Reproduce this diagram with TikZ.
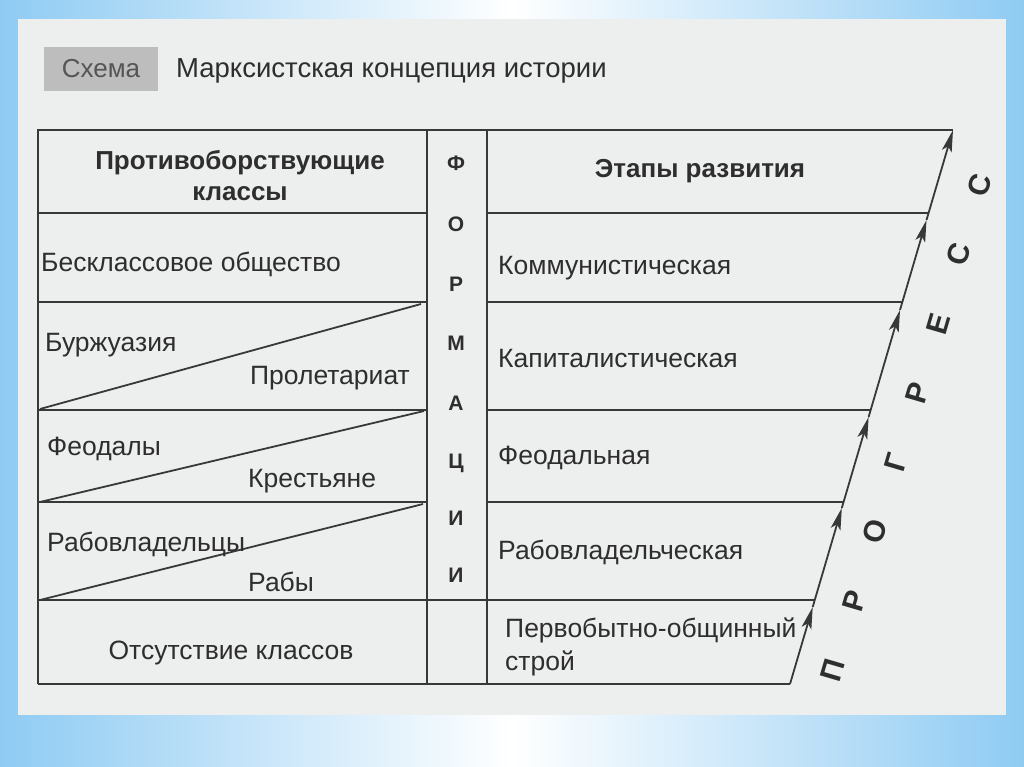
\documentclass[tikz,border=0pt]{standalone}
\usepackage{fontspec}
\setmainfont{Liberation Sans}
\usetikzlibrary{arrows.meta}
\definecolor{bgblue}{HTML}{8FCBF3}
\definecolor{panel}{HTML}{EDEEEE}
\definecolor{ink}{HTML}{2E2E2E}
\definecolor{lineclr}{HTML}{383838}
\definecolor{tagbg}{HTML}{BDBDBD}
\definecolor{tagink}{HTML}{555555}
\begin{document}
\begin{tikzpicture}[x=1pt,y=-1pt,
  grid/.style={draw=lineclr, line width=2.2pt},
  txt/.style={inner sep=0pt, text=ink, font=\fontsize{26.5}{33}\selectfont},
  hdr/.style={inner sep=0pt, text=ink, font=\bfseries\fontsize{26}{31}\selectfont, align=center},
  vletter/.style={inner sep=0pt, text=ink, font=\bfseries\fontsize{21}{21}\selectfont, anchor=base},
  progletter/.style={inner sep=0pt, text=ink, font=\bfseries\fontsize{30}{30}\selectfont, rotate=73.6, anchor=center},
  progarrow/.style={draw=lineclr, line width=1.8pt, -{Stealth[length=22pt,width=10pt,inset=5pt]}}
]
\useasboundingbox (0,0) rectangle (1024,767);
\shade[left color=bgblue, right color=bgblue, middle color=white] (0,0) rectangle (1024,767);
\fill[panel] (18,19) rectangle (1006,715);

% tag and title
\fill[tagbg] (44,47) rectangle (158,91);
\node[inner sep=0pt, text=tagink, font=\fontsize{26}{30}\selectfont, anchor=base] (tag) at (101,78) {Схема};
\node[inner sep=0pt, text=ink, font=\fontsize{27.5}{30}\selectfont, anchor=base west] (title) at (176,78) {Марксистская концепция истории};

% coordinates
\coordinate (TL) at (38,130);
\coordinate (T) at (953,130);
\coordinate (BL) at (38,684);
\coordinate (B) at (790,684);
\coordinate (D1t) at (427,130);
\coordinate (D1b) at (427,684);
\coordinate (D2t) at (487,130);
\coordinate (D2b) at (487,684);
\coordinate (L1) at (38,213);  \coordinate (M1) at (427,213);  \coordinate (N1) at (487,213);  \coordinate (R1) at (928.6,213);
\coordinate (L2) at (38,302);  \coordinate (M2) at (427,302);  \coordinate (N2) at (487,302);  \coordinate (R2) at (902.4,302);
\coordinate (L3) at (38,410);  \coordinate (M3) at (427,410);  \coordinate (N3) at (487,410);  \coordinate (R3) at (870.6,410);
\coordinate (L4) at (38,502);  \coordinate (M4) at (427,502);  \coordinate (N4) at (487,502);  \coordinate (R4) at (843.5,502);
\coordinate (L5) at (38,600);  \coordinate (R5) at (814.7,600);
\coordinate (G1a) at (40,409); \coordinate (G1b) at (421,304);
\coordinate (G2a) at (40,502); \coordinate (G2b) at (424,411);
\coordinate (G3a) at (40,600); \coordinate (G3b) at (423,504);
\coordinate (A1) at (812.7,607);
\coordinate (A2) at (841.8,508);
\coordinate (A3) at (868.6,417);
\coordinate (A4) at (900.0,310);
\coordinate (A5) at (926.5,220);

% table frame
\draw[grid] (BL) -- (TL) -- (T);
\draw[grid] (BL) -- (B);
\draw[grid] (D1t) -- (D1b);
\draw[grid] (D2t) -- (D2b);
\draw[grid] (L1) -- (M1); \draw[grid] (N1) -- (R1);
\draw[grid] (L2) -- (M2); \draw[grid] (N2) -- (R2);
\draw[grid] (L3) -- (M3); \draw[grid] (N3) -- (R3);
\draw[grid] (L4) -- (M4); \draw[grid] (N4) -- (R4);
\draw[grid] (L5) -- (R5);
\draw[grid, line width=1.8pt] (G1a) -- (G1b);
\draw[grid, line width=1.8pt] (G2a) -- (G2b);
\draw[grid, line width=1.8pt] (G3a) -- (G3b);

% progress arrow
\draw[progarrow] (B) -- (A1);
\draw[progarrow] (A1) -- (A2);
\draw[progarrow] (A2) -- (A3);
\draw[progarrow] (A3) -- (A4);
\draw[progarrow] (A4) -- (A5);
\draw[progarrow] (A5) -- (T);

% headers (base anchor = baseline of the last line)
\node[hdr, anchor=base] (h1) at (240,201) {Противоборствующие\\классы};
\node[hdr, anchor=base] (h2) at (700,178) {Этапы развития};

% left column
\node[txt, anchor=base west] (c1) at (41,271) {Бесклассовое общество};
\node[txt, anchor=base west] (c2a) at (45,351) {Буржуазия};
\node[txt, anchor=base east] (c2b) at (410,384) {Пролетариат};
\node[txt, anchor=base west] (c3a) at (47,455) {Феодалы};
\node[txt, anchor=base west] (c3b) at (248,487) {Крестьяне};
\node[txt, anchor=base west] (c4a) at (47,551) {Рабовладельцы};
\node[txt, anchor=base west] (c4b) at (248,591) {Рабы};
\node[txt, anchor=base] (c5) at (231,659) {Отсутствие классов};

% right column
\node[txt, anchor=base west] (s1) at (498,274) {Коммунистическая};
\node[txt, anchor=base west] (s2) at (498,367) {Капиталистическая};
\node[txt, anchor=base west] (s3) at (498,464) {Феодальная};
\node[txt, anchor=base west] (s4) at (498,559) {Рабовладельческая};
\node[txt, anchor=base west, align=left] (s5) at (505,670) {Первобытно-общинный\\строй};

% vertical word
\node[vletter] (f1) at (456,171) {Ф};
\node[vletter] (f2) at (456,232) {О};
\node[vletter] (f3) at (456,291) {Р};
\node[vletter] (f4) at (456,350) {М};
\node[vletter] (f5) at (456,410) {А};
\node[vletter] (f6) at (456,468) {Ц};
\node[vletter] (f7) at (456,525) {И};
\node[vletter] (f8) at (456,582) {И};

% progress word
\node[progletter] (p1) at (833,670) {П};
\node[progletter] (p2) at (854,600.7) {Р};
\node[progletter] (p3) at (875,531.4) {О};
\node[progletter] (p4) at (896,462.1) {Г};
\node[progletter] (p5) at (917,392.9) {Р};
\node[progletter] (p6) at (938,323.6) {Е};
\node[progletter] (p7) at (959,254.3) {С};
\node[progletter] (p8) at (980,185) {С};
\end{tikzpicture}
\end{document}
